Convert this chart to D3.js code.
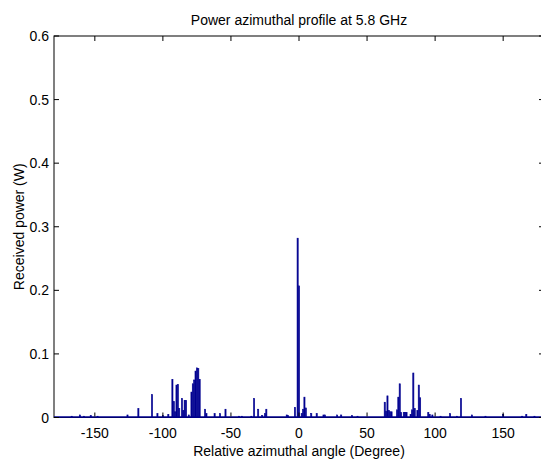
<!DOCTYPE html>
<html lang="en">
<head>
<meta charset="UTF-8"/>
<title>Power azimuthal profile at 5.8 GHz</title>
<script src="https://d3js.org/d3.v7.min.js"></script>
<style>
  body { margin: 0; background: #fff; }
  text { font-family: "Liberation Sans", Arial, Helvetica, sans-serif; fill: #000; }
</style>
</head>
<body>
<script>
// angle bins (degree) and received power (W)
var angles = [-167, -161, -158, -153, -148, -126, -118, -108, -104, -100, -96,
              -93, -92, -91, -90, -89, -88, -86, -85, -84, -83, -81,
              -79, -78, -77, -76, -75, -74, -73, -69, -68, -62, -58, -54,
              -44, -42, -35, -33, -30, -27, -25, -24, -9, -8, -3,
              -1, 0, 2, 3, 4, 5, 9, 13, 18, 19, 28, 31, 39, 43,
              63, 64, 65, 66, 67, 68, 72, 73, 74, 75, 77, 78, 79, 82, 83,
              84, 85, 87, 88, 89, 95, 96, 98, 104, 111, 116, 119, 127, 137,
              150, 164, 167, 173];
var power  = [0.002, 0.004, 0.002, 0.003, 0.002, 0.004, 0.014, 0.036, 0.006, 0.003, 0.005,
              0.060, 0.025, 0.009, 0.051, 0.052, 0.014, 0.030, 0.011, 0.027, 0.027, 0.004,
              0.040, 0.053, 0.059, 0.073, 0.078, 0.077, 0.060, 0.013, 0.006, 0.006, 0.006, 0.013,
              0.002, 0.002, 0.002, 0.030, 0.013, 0.003, 0.006, 0.013, 0.004, 0.003, 0.016,
              0.282, 0.207, 0.006, 0.013, 0.032, 0.015, 0.006, 0.006, 0.004, 0.004, 0.004, 0.004, 0.003, 0.002,
              0.024, 0.010, 0.034, 0.011, 0.009, 0.009, 0.012, 0.032, 0.053, 0.008, 0.008, 0.008, 0.008, 0.005, 0.012,
              0.070, 0.014, 0.011, 0.051, 0.031, 0.008, 0.005, 0.004, 0.002, 0.006, 0.002, 0.030, 0.004, 0.002,
              0.005, 0.002, 0.005, 0.002];
var xTicks = [-150, -100, -50, 0, 50, 100, 150];
var yTicks = [0, 0.1, 0.2, 0.3, 0.4, 0.5, 0.6];

var w = 541, h = 459;
// plot area; right edge sits just past the picture edge
var padL = 54, padR = 544, padT = 36, padB = 417.5;

var xScale = d3.scaleLinear().domain([-180, 180]).range([padL, padR]);
var yScale = d3.scaleLinear().domain([0, 0.6]).range([padB, padT]);

var svg = d3.select("body").append("svg")
    .attr("width", w)
    .attr("height", h);

var data = angles.map(function(a, i){ return {a: a, p: power[i]}; });
var barW = (xScale(1) - xScale(0)) * 0.85;

// axes box
svg.append("rect")
    .attr("x", padL).attr("y", padT)
    .attr("width", padR - padL).attr("height", padB - padT)
    .attr("fill", "none").attr("stroke", "#000").attr("stroke-width", 1);

// bars
svg.selectAll("rect.bar")
    .data(data)
    .enter()
    .append("rect")
    .attr("class", "bar")
    .attr("x", function(d){ return xScale(d.a) - barW / 2; })
    .attr("y", function(d){ return yScale(d.p); })
    .attr("width", barW)
    .attr("height", function(d){ return yScale(0) - yScale(d.p); })
    .attr("fill", "#000090")
    .attr("stroke", "#000090")
    .attr("stroke-width", 0.6);

// bar baseline (tiny values in every bin)
svg.append("line")
    .attr("x1", xScale(-180)).attr("x2", xScale(180))
    .attr("y1", yScale(0) - 0.5).attr("y2", yScale(0) - 0.5)
    .attr("stroke", "#000090").attr("stroke-width", 1.4);

// inward ticks, MATLAB style
var tl = 5;
xTicks.forEach(function(t){
    svg.append("line")
        .attr("x1", xScale(t)).attr("x2", xScale(t))
        .attr("y1", padB - 1).attr("y2", padB - tl)
        .attr("stroke", "#000");
    svg.append("line")
        .attr("x1", xScale(t)).attr("x2", xScale(t))
        .attr("y1", padT).attr("y2", padT + tl)
        .attr("stroke", "#000");
    svg.append("text")
        .attr("x", xScale(t)).attr("y", 438)
        .attr("text-anchor", "middle")
        .attr("font-size", 14)
        .text(t);
});
yTicks.forEach(function(t){
    svg.append("line")
        .attr("x1", padL).attr("x2", padL + tl)
        .attr("y1", yScale(t)).attr("y2", yScale(t))
        .attr("stroke", "#000");
    svg.append("line")
        .attr("x1", padR).attr("x2", padR - tl)
        .attr("y1", yScale(t)).attr("y2", yScale(t))
        .attr("stroke", "#000");
    svg.append("text")
        .attr("x", 49).attr("y", yScale(t) + 5)
        .attr("text-anchor", "end")
        .attr("font-size", 14)
        .text(t === 0 ? "0" : t.toFixed(1));
});

// labels
svg.append("text")
    .attr("x", (padL + padR) / 2).attr("y", 25)
    .attr("text-anchor", "middle")
    .attr("font-size", 14)
    .text("Power azimuthal profile at 5.8 GHz");

svg.append("text")
    .attr("x", (padL + padR) / 2).attr("y", 456)
    .attr("text-anchor", "middle")
    .attr("font-size", 14)
    .text("Relative azimuthal angle (Degree)");

svg.append("text")
    .attr("transform", "translate(24," + (padT + padB) / 2 + ") rotate(-90)")
    .attr("text-anchor", "middle")
    .attr("font-size", 14)
    .text("Received power (W)");
</script>
</body>
</html>
